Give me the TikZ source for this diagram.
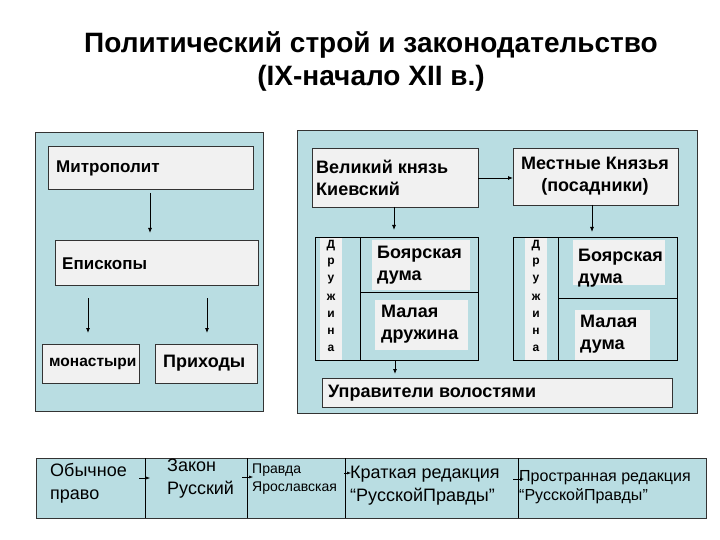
\documentclass[tikz,border=0pt]{standalone}
\usepackage{fontspec}
\setmainfont{Liberation Sans}
\usetikzlibrary{arrows.meta}
\definecolor{panel}{HTML}{B9DDE2}
\definecolor{boxg}{HTML}{F1F1F1}
\begin{document}
\begin{tikzpicture}[x=1pt,y=-1pt,
  pan/.style={draw=black!80,fill=panel,line width=0.7pt},
  bx/.style={draw=black!80,fill=boxg,line width=0.6pt},
  lb/.style={fill=boxg},
  tx/.style={anchor=west,font=\bfseries\fontsize{18}{22}\selectfont,align=left,inner sep=0pt},
  ar/.style={-{Latex[length=5pt,width=4pt]},line width=0.8pt},
  sar/.style={-{Latex[length=4pt,width=3pt]},line width=0.5pt},
  ch/.style={font=\bfseries\fontsize{12}{13}\selectfont,inner sep=0pt}]
\useasboundingbox (0,0) rectangle (720,540);
\node[font=\bfseries\fontsize{28}{33}\selectfont,align=center] (title) at (371,61) {Политический строй и законодательство\\(IX-начало XII в.)};
% left panel
\draw[pan] (35,132) rectangle (263,411);
\draw[bx] (48,146) rectangle (253,189); \node[tx,font=\bfseries\fontsize{17}{20}\selectfont] (mit) at (56,168) {Митрополит};
\coordinate (mitb) at (150,193); \coordinate (epit) at (150,233);
\draw[ar] (mitb) -- (epit);
\draw[bx] (55,240) rectangle (258,285); \node[tx,font=\bfseries\fontsize{17}{20}\selectfont] (epi) at (62,264) {Епископы};
\coordinate (a1) at (88,298); \coordinate (a2) at (88,333);
\coordinate (b1) at (207,298); \coordinate (b2) at (207,333);
\draw[ar] (a1) -- (a2); \draw[ar] (b1) -- (b2);
\draw[bx] (42,344) rectangle (139,383); \node[tx,font=\bfseries\fontsize{15.5}{18}\selectfont] (mon) at (49,364) {монастыри};
\draw[bx] (155,344) rectangle (257,383); \node[tx] (pri) at (163,363) {Приходы};
% right panel
\draw[pan] (297,130) rectangle (697,413);
\draw[bx] (312,148) rectangle (478,207);
\node[tx] (vk) at (316,178) {Великий князь\\ Киевский};
\draw[bx] (513,148) rectangle (678,205);
\node[font=\bfseries\fontsize{18}{22}\selectfont,align=center] (mk) at (595,176) {Местные Князья\\(посадники)};
\coordinate (h1) at (478,178); \coordinate (h2) at (513,178);
\draw[ar] (h1) -- (h2);
\coordinate (d1) at (394,207); \coordinate (d2) at (394,230);
\draw[ar] (d1) -- (d2);
\coordinate (e1) at (592,205); \coordinate (e2) at (592,232);
\draw[ar] (e1) -- (e2);
% left group
\fill[boxg] (320,237) rectangle (342,360);
\draw[line width=0.6pt] (315,237) rectangle (478,360) (360,237) -- (360,360) (360,292) -- (478,292);
\fill[lb] (372,240) rectangle (470,290); \fill[lb] (375,300) rectangle (468,350);
\node[tx] (bd1) at (377,265) {Боярская\\ дума};
\node[tx] (md1) at (381,324) {Малая\\дружина};
\foreach \c [count=\i] in {Д,р,у,ж,и,н,а} \node[ch] (l\i) at (331,229+17*\i) {\c};
% right group
\fill[boxg] (525,237) rectangle (547,360);
\draw[line width=0.6pt] (513,237) rectangle (677,360) (558,237) -- (558,360) (558,298) -- (677,298);
\fill[lb] (573,240) rectangle (665,285); \fill[lb] (575,310) rectangle (650,360);
\node[tx] (bd2) at (578,268) {Боярская\\дума};
\node[tx] (md2) at (580,334) {Малая\\дума};
\foreach \c [count=\i] in {Д,р,у,ж,и,н,а} \node[ch] (r\i) at (536,229+17*\i) {\c};
\coordinate (u1) at (395,360); \coordinate (u2) at (395,374);
\draw[ar] (u1) -- (u2);
\draw[bx] (322,378) rectangle (672,407);
\node[tx] (upr) at (328,393) {Управители волостями};
% bottom strip
\draw[pan] (36,458) rectangle (706,518);
\foreach \x in {145,247,345,518} \draw[line width=0.6pt] (\x,458) -- (\x,518);
\node[tx,font=\fontsize{18}{23}\selectfont] (ob) at (50,483) {Обычное\\ право};
\node[tx,font=\fontsize{18}{23}\selectfont] (zk) at (167,479) {Закон\\Русский};
\node[tx,font=\fontsize{14}{18}\selectfont] (pj) at (252,479) {Правда\\Ярославская};
\node[tx,font=\fontsize{18}{23}\selectfont] (kr) at (350,486) {Краткая редакция\\“РусскойПравды”};
\node[tx,font=\fontsize{16}{19}\selectfont] (pr) at (519,487) {Пространная редакция\\“РусскойПравды”};
\coordinate (s1) at (139,478); \coordinate (s2) at (150,478);
\coordinate (s3) at (242,477); \coordinate (s4) at (253,477);
\coordinate (s5) at (344,473); \coordinate (s6) at (351,473);
\coordinate (s7) at (513,479); \coordinate (s8) at (524,479);
\draw[sar] (s1) -- (s2); \draw[sar] (s3) -- (s4); \draw[sar] (s5) -- (s6); \draw[sar] (s7) -- (s8);
\end{tikzpicture}
\end{document}
